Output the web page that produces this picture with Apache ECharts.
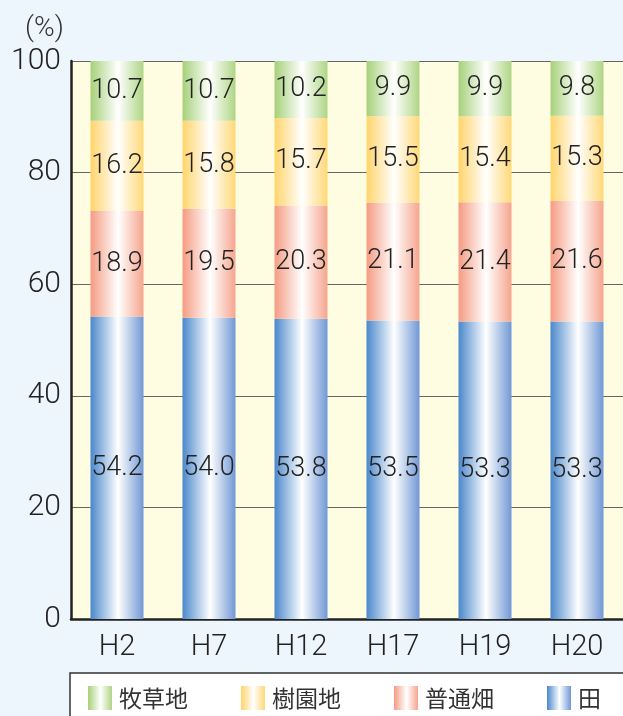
<!DOCTYPE html>
<html>
<head>
<meta charset="utf-8">
<script src="https://cdn.jsdelivr.net/npm/echarts@6/dist/echarts.min.js"></script>
<style>
  html, body { margin: 0; padding: 0; background: #eef6fd; }
  #chart { width: 623px; height: 716px; }
</style>
</head>
<body>
<div id="chart"></div>
<script>
  // ---- Data ----
  const categories = ["H2", "H7", "H12", "H17", "H19", "H20"];
  const paddy = [54.2, 54.0, 53.8, 53.5, 53.3, 53.3];      // 田
  const upland = [18.9, 19.5, 20.3, 21.1, 21.4, 21.6];     // 普通畑
  const orchard = [16.2, 15.8, 15.7, 15.5, 15.4, 15.3];    // 樹園地
  const pasture = [10.7, 10.7, 10.2, 9.9, 9.9, 9.8];       // 牧草地
  const yTicks = [0, 20, 40, 60, 80, 100];

  // horizontal shine: colour at edges, white in the middle
  function shine(c, c2) {
    return new echarts.graphic.LinearGradient(0, 0, 1, 0, [
      { offset: 0, color: c },
      { offset: 0.52, color: "#ffffff" },
      { offset: 1, color: c2 || c }
    ]);
  }

  const labelStyle = {
    show: true,
    position: "inside",
    color: "#222",
    fontFamily: "Roboto, sans-serif",
    fontWeight: 300,
    fontSize: 27,
    formatter: p => p.value.toFixed(1)
  };

  function bar(name, data, c, c2) {
    return {
      name,
      type: "bar",
      stack: "total",
      barWidth: 53,
      data,
      itemStyle: { color: shine(c, c2) },
      label: labelStyle,
      emphasis: { disabled: true }
    };
  }

  const chart = echarts.init(document.getElementById("chart"));
  chart.setOption({
    backgroundColor: "#eef6fd",
    animation: false,
    grid: {
      left: 71, top: 61, bottom: 97, right: -6,
      show: true, backgroundColor: "#fffde1", borderWidth: 0
    },
    graphic: [
      {
        type: "rect",
        shape: { x: 70, y: 673, width: 600, height: 100 },
        style: { fill: "#ffffff", stroke: "#333", lineWidth: 1.5 },
        z: -1
      },
      {
        type: "text",
        left: 25, top: 15,
        style: { text: "(%)", fill: "#333", font: "300 28px Roboto, sans-serif" }
      }
    ],
    legend: {
      left: 88, top: 686, width: 560, padding: 0,
      itemWidth: 24, itemHeight: 24, itemGap: 53,
      icon: "rect",
      textStyle: { fontSize: 23, color: "#333", fontFamily: "Noto Sans CJK JP", padding: [0, 0, 0, 2] },
      data: ["牧草地", "樹園地", "普通畑", "田"]
    },
    xAxis: {
      type: "category",
      data: categories,
      axisLine: { lineStyle: { color: "#222", width: 2.5 } },
      axisTick: { inside: true, length: 13, lineStyle: { color: "#333", width: 1.2 } },
      axisLabel: { fontSize: 29, color: "#222", margin: 14, fontFamily: "Roboto", fontWeight: 300 }
    },
    yAxis: {
      type: "value",
      min: 0, max: 100, interval: 20,
      axisLine: { show: true, lineStyle: { color: "#222", width: 2.5 } },
      axisTick: { show: false },
      splitLine: { lineStyle: { color: "#666", width: 1.2 } },
      axisLabel: {
        fontSize: 30, color: "#222", margin: 10, fontFamily: "Roboto", fontWeight: 300,
        formatter: v => (yTicks.indexOf(v) >= 0 ? String(v) : "")
      }
    },
    series: [
      bar("田", paddy, "#4a87cc", "#7098d6"),
      bar("普通畑", upland, "#f59b82", "#f6a58e"),
      bar("樹園地", orchard, "#ffd46a", "#ffd877"),
      bar("牧草地", pasture, "#a6d07a", "#afd585")
    ]
  });
</script>
</body>
</html>
